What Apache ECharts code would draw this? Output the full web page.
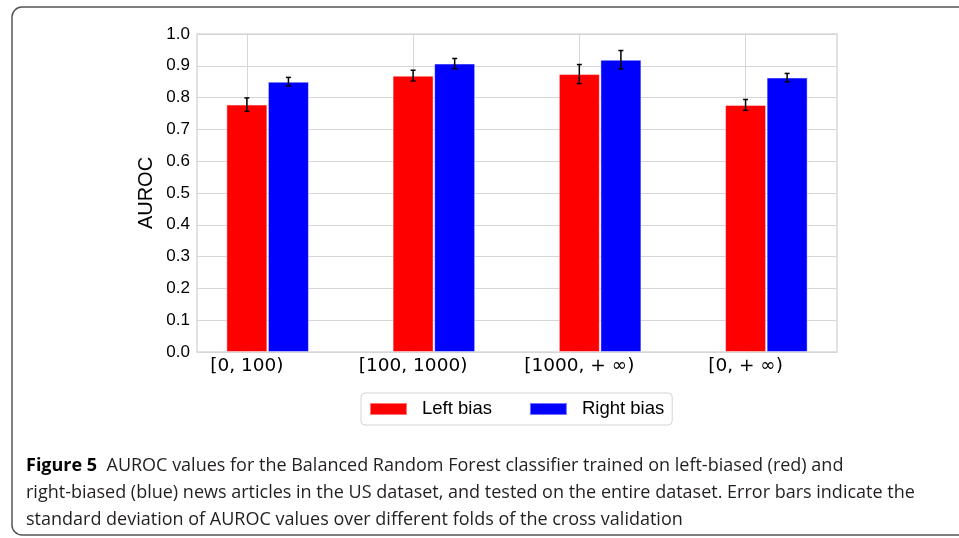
<!DOCTYPE html>
<html><head><meta charset="utf-8">
<script src="https://cdn.jsdelivr.net/npm/echarts@6/dist/echarts.min.js"></script>
<style>html,body{margin:0;padding:0;background:#fff}#c{width:959px;height:538px}</style>
</head><body><div id="c"></div>
<script>
const categories = ['[0, 100)', '[100, 1000)', '[1000, + \u221E)', '[0, + \u221E)'];
const tickPositions = [0, 1, 2, 3];
const barOffset = 0.25;
const leftMean = [0.778, 0.869, 0.874, 0.777];
const leftStd = [0.021, 0.017, 0.030, 0.017];
const rightMean = [0.850, 0.907, 0.919, 0.863];
const rightStd = [0.0135, 0.016, 0.029, 0.013];
const seriesNames = ['Left bias', 'Right bias'];
const captionLines = [
  'AUROC values for the Balanced Random Forest classifier trained on left-biased (red) and',
  'right-biased (blue) news articles in the US dataset, and tested on the entire dataset. Error bars indicate the',
  'standard deviation of AUROC values over different folds of the cross validation'
];

const leftData = leftMean.map((v, i) => [tickPositions[i], v]);
const rightData = rightMean.map((v, i) => [tickPositions[i] + barOffset, v]);
const errData = [];
leftMean.forEach((v, i) => errData.push([tickPositions[i], v - leftStd[i], v + leftStd[i]]));
rightMean.forEach((v, i) => errData.push([tickPositions[i] + barOffset, v - rightStd[i], v + rightStd[i]]));

const capFont = '18px "Open Sans", sans-serif';
const chart = echarts.init(document.getElementById('c'), null, {renderer: 'canvas'});
const option = {
  animation: false,
  backgroundColor: '#fff',
  grid: {left: 197, top: 34, width: 640, height: 318, show: true, borderColor: '#d9d9d9', borderWidth: 1.5, backgroundColor: 'transparent'},
  legend: {
    data: seriesNames,
    left: 361, top: 393,
    icon: 'rect', itemWidth: 37, itemHeight: 12, itemGap: 37,
    padding: [6, 8, 6, 8],
    borderColor: '#d4d4d4', borderWidth: 1, borderRadius: 4,
    textStyle: {fontFamily: '"Liberation Sans", Arial, sans-serif', fontSize: 18.5, color: '#000', padding: [0, 0, 0, 10], lineHeight: 20}
  },
  xAxis: {
    type: 'value', min: -0.3, max: 3.55,
    axisLine: {show: false},
    axisTick: {show: false, customValues: tickPositions},
    axisLabel: {customValues: tickPositions, margin: 5, fontFamily: '"DejaVu Sans", sans-serif', fontSize: 18.5, color: '#000',
      formatter: v => { const k = tickPositions.indexOf(Math.round(v * 1000) / 1000); return k >= 0 ? categories[k] : ''; }},
    splitLine: {show: true, lineStyle: {color: '#d6d6d6', width: 1}}
  },
  yAxis: {
    type: 'value', min: 0, max: 1, interval: 0.1,
    name: 'AUROC', nameLocation: 'middle', nameGap: 41, nameMoveOverlap: false,
    nameTextStyle: {fontFamily: '"Liberation Sans", Arial, sans-serif', fontSize: 20, color: '#000'},
    axisLine: {show: false}, axisTick: {show: false},
    axisLabel: {margin: 7, fontFamily: '"Liberation Sans", Arial, sans-serif', fontSize: 17, color: '#000', formatter: v => v.toFixed(1)},
    splitLine: {show: true, lineStyle: {color: '#d6d6d6', width: 1}}
  },
  series: [
    {name: seriesNames[0], type: 'bar', data: leftData, barWidth: 41, barGap: '-100%',
      itemStyle: {color: '#ff0000', borderColor: 'rgba(255,255,255,0.45)', borderWidth: 1}},
    {name: seriesNames[1], type: 'bar', data: rightData, barWidth: 41, barGap: '-100%',
      itemStyle: {color: '#0000ff', borderColor: 'rgba(255,255,255,0.45)', borderWidth: 1}},
    {name: 'err', type: 'custom', data: errData, z: 5,
      renderItem: (params, api) => {
        const x = api.value(0);
        const lo = api.coord([x, api.value(1)]);
        const hi = api.coord([x, api.value(2)]);
        const c = 2.5;
        const st = {stroke: '#000', lineWidth: 1.5};
        return {type: 'group', children: [
          {type: 'line', shape: {x1: lo[0], y1: lo[1], x2: hi[0], y2: hi[1]}, style: st},
          {type: 'line', shape: {x1: lo[0] - c, y1: lo[1], x2: lo[0] + c, y2: lo[1]}, style: st},
          {type: 'line', shape: {x1: hi[0] - c, y1: hi[1], x2: hi[0] + c, y2: hi[1]}, style: st}
        ]};
      }}
  ],
  graphic: [
    {type: 'rect', shape: {x: 12, y: 7, width: 1000, height: 528, r: 10}, style: {fill: 'none', stroke: '#555', lineWidth: 1.5}, silent: true},
    {type: 'text', left: 26, top: 457, style: {text: '{b|Figure 5}  ' + captionLines[0], font: capFont, fill: '#231f20',
      rich: {b: {fontFamily: '"Open Sans", sans-serif', fontSize: 18, fontWeight: 'bold', fill: '#000'}}}},
    {type: 'text', left: 26, top: 484, style: {text: captionLines[1], font: capFont, fill: '#231f20'}},
    {type: 'text', left: 26, top: 511, style: {text: captionLines[2], font: capFont, fill: '#231f20'}}
  ]
};
chart.setOption(option);
</script></body></html>
